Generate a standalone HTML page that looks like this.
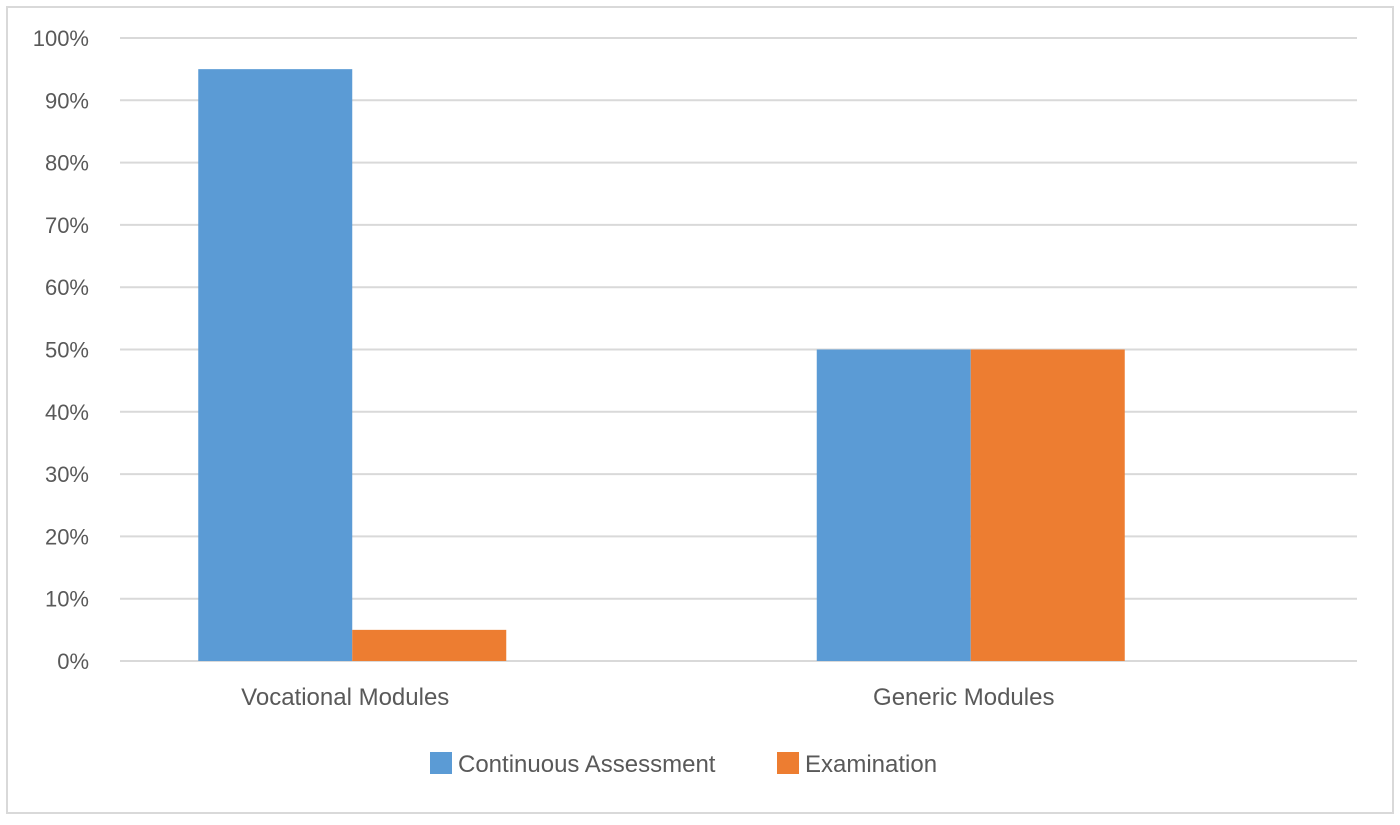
<!DOCTYPE html>
<html><head><meta charset="utf-8"><style>
body{margin:0;background:#fff;}
svg text{font-family:"Liberation Sans",sans-serif;fill:#595959;}
</style></head><body>
<svg id="c" width="1400" height="820">
<rect x="7" y="7" width="1386" height="806" fill="#fff" stroke="#d9d9d9" stroke-width="2"/>
<g id="grid"></g><g id="bars"></g><g id="labels"></g>
<g>
<rect x="430" y="752" width="22" height="22" fill="#5b9bd5"/>
<text x="458" y="772" font-size="24">Continuous Assessment</text>
<rect x="777" y="752" width="22" height="22" fill="#ed7d31"/>
<text x="805" y="772" font-size="24">Examination</text>
</g>
</svg>
<script>
const categories=["Vocational Modules","Generic Modules"];
const continuous=[95,50];
const examination=[5,50];
const ticks=[0,10,20,30,40,50,60,70,80,90,100];
const ns="http://www.w3.org/2000/svg";
const y0=661,y100=38,gx0=120,gx1=1357,bandStart=43,bandW=618.5,barW=154;
function y(v){return y0-(y0-y100)*v/100;}
function cx(i){return bandStart+bandW*(i+0.5);}
function mk(t,a,p){const e=document.createElementNS(ns,t);for(const k in a)e.setAttribute(k,a[k]);p.appendChild(e);return e;}
const g=document.getElementById('grid'),b=document.getElementById('bars'),l=document.getElementById('labels');
ticks.forEach(t=>{
 const ln=mk('line',{x1:gx0,x2:gx1,y1:y(t),y2:y(t),stroke:'#d9d9d9','stroke-width':2},g);
 
 
 const tx=mk('text',{x:89,y:y(t)+8,'font-size':22,'text-anchor':'end'},l);
 tx.textContent=t+'%';
 
 
});
categories.forEach((c,i)=>{
 const r1=mk('rect',{x:cx(i)-barW,y:y(continuous[i]),width:barW,height:y0-y(continuous[i]),fill:'#5b9bd5'},b);
 
 
 const r2=mk('rect',{x:cx(i),y:y(examination[i]),width:barW,height:y0-y(examination[i]),fill:'#ed7d31'},b);
 
 
 const tx=mk('text',{x:cx(i)-7,y:705,'font-size':24,'text-anchor':'middle'},l);
 tx.textContent=c;
 
 
});
</script>
</body></html>
